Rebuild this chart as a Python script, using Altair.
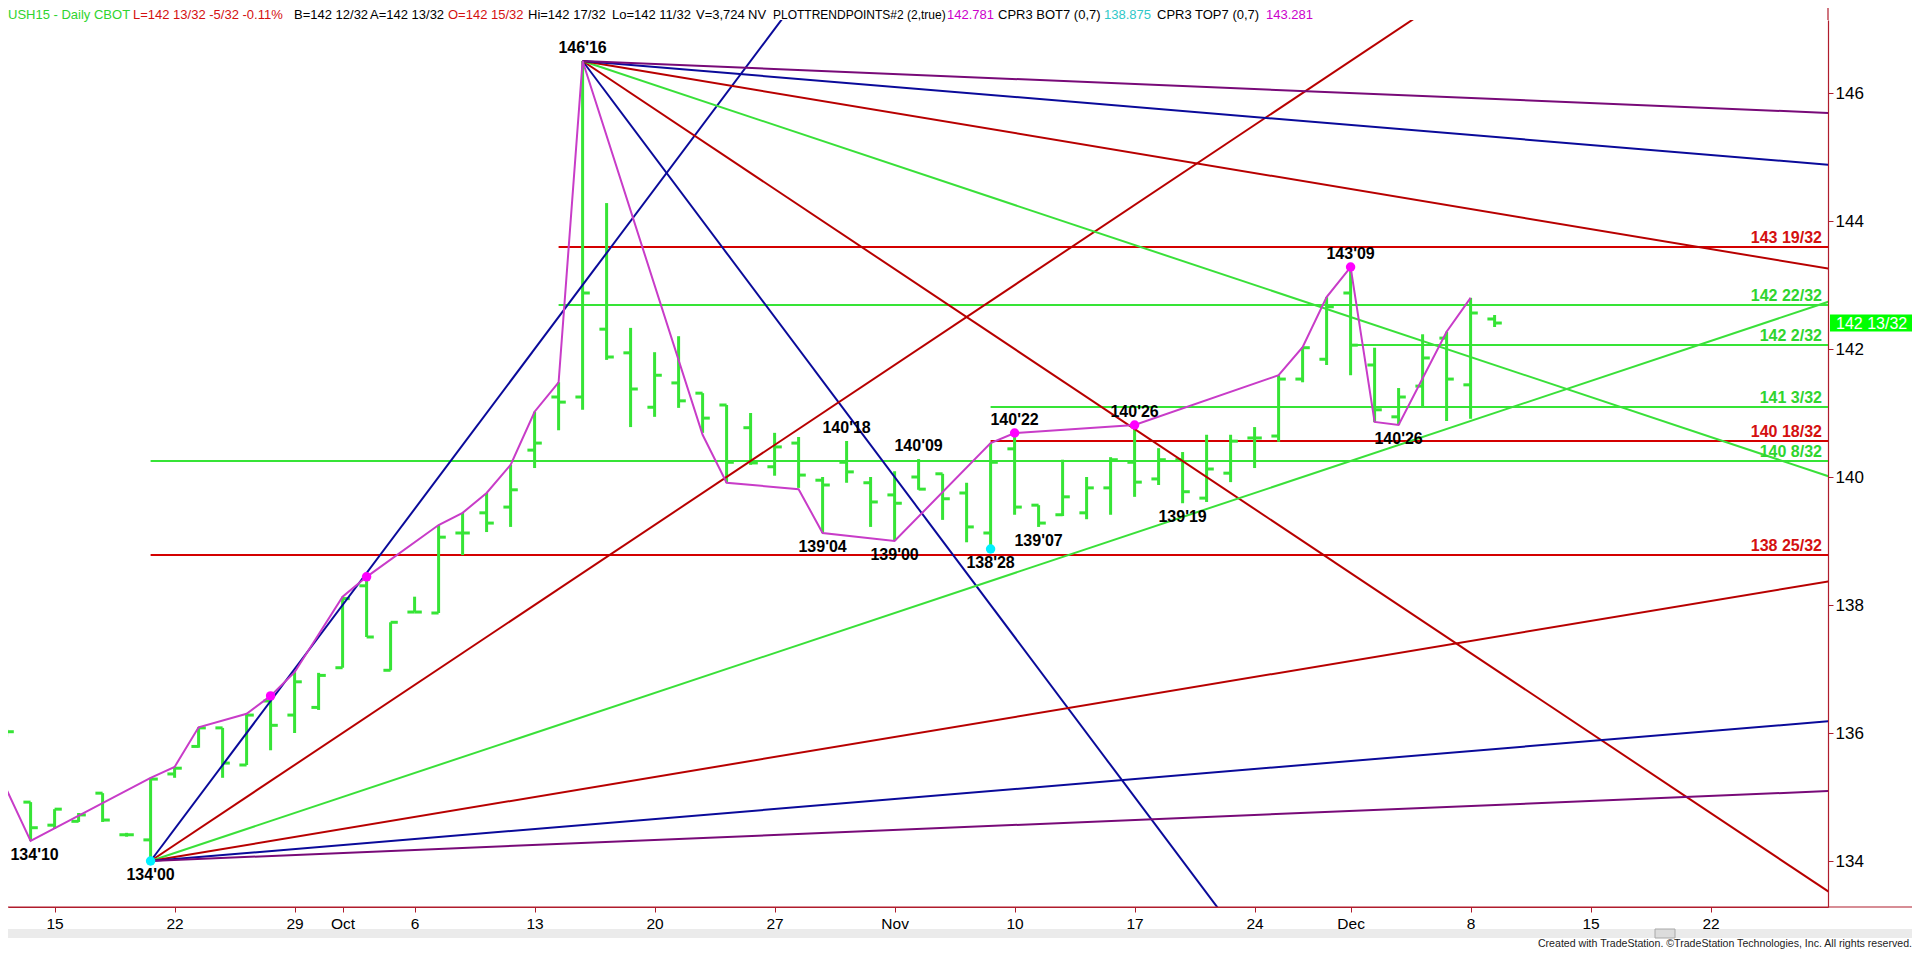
import altair as alt
import pandas as pd

# ---------------- data (trading-day index: 0 = Mon 15 Sep 2014) ----------------
bar_day = list(range(-2, 61))
bar_open = [136.00, 134.92, 134.56, 134.62, 135.06, 134.41, 134.33, 135.36, 135.79, 136.08,
            135.50, 136.50, 136.28, 136.40, 137.02, 138.30, 136.98, 137.89, 137.875, 139.125,
            139.44, 139.53, 140.42, 141.25, 141.25, 142.31, 141.94, 141.09, 141.47, 141.31,
            141.125, 140.77, 140.16, 140.53, 139.95, 140.23, 139.91, 139.72, 140.00, 140.05,
            139.75, 139.125, 140.44, 139.56, 139.41, 139.44, 139.83, 140.23, 139.97, 140.27,
            139.67, 140.06, 140.61, 140.64, 141.53, 141.84, 142.875, 141.75, 140.94, 141.42,
            142.17, 141.44, 142.469]
bar_high = [136.06, 134.92, 134.81, 134.75, 135.06, 134.44, 135.30, 135.47, 136.09, 136.08,
            136.30, 136.58, 136.95, 136.94, 138.13, 138.44, 137.73, 138.13, 139.25, 139.44,
            139.75, 140.19, 141.02, 141.48, 146.50, 144.28, 142.33, 141.95, 142.20, 141.31,
            141.125, 141.00, 140.69, 140.625, 140.00, 140.5625, 140.00, 140.09, 140.28, 140.05,
            139.91, 140.53, 140.6875, 139.56, 140.27, 140.00, 140.31, 140.8125, 140.45, 140.39,
            140.66, 140.66, 140.78, 141.59, 142.03, 142.81, 143.28, 142.02, 141.39, 142.23,
            142.27, 142.80, 142.531]
bar_low = [135.94, 134.3125, 134.50, 134.61, 134.61, 134.38, 134.00, 135.30, 135.77, 135.30,
           135.50, 135.73, 136.00, 136.36, 137.02, 137.50, 136.98, 137.89, 137.875, 138.78,
           139.14, 139.22, 140.14, 140.73, 141.05, 141.83, 140.78, 140.94, 141.08, 140.69,
           139.91, 140.19, 140.02, 139.83, 139.125, 139.91, 139.22, 139.00, 139.80, 139.33,
           138.98, 138.875, 139.41, 139.22, 139.39, 139.34, 139.41, 139.69, 139.875, 139.59,
           139.61, 139.92, 140.14, 140.55, 141.48, 141.75, 141.59, 140.86, 140.8125, 141.09,
           140.875, 140.91, 142.344]
bar_close = [136.02, 134.52, 134.81, 134.72, 134.64, 134.41, 135.28, 135.45, 136.08, 135.53,
             136.28, 136.12, 136.80, 136.90, 138.10, 137.50, 137.73, 137.89, 139.06, 139.125,
             139.28, 139.80, 140.53, 141.17, 142.875, 141.875, 141.375, 141.59, 141.19, 140.92,
             140.23, 140.22, 140.47, 140.03, 139.875, 140.08, 139.61, 139.59, 139.81, 139.66,
             139.22, 140.23, 139.53, 139.28, 139.69, 139.83, 140.27, 139.92, 140.27, 139.77,
             140.125, 140.56, 140.61, 141.53, 142.02, 142.66, 142.06, 141.05, 141.25, 141.86,
             141.53, 142.5625, 142.406]

# trend (swing) line vertices
swing_day = [-3, -1, 4, 5, 6, 8, 9, 10, 12, 13, 16, 17, 18, 19, 20, 21, 22, 27, 28, 31,
             32, 35, 39, 40, 45, 51, 52, 53, 54, 55, 56, 58, 59]
swing_price = [135.92, 134.3125, 135.30, 135.47, 136.09, 136.30, 136.58, 136.95, 138.13, 138.44,
               139.25, 139.44, 139.75, 140.19, 141.02, 141.48, 146.50, 140.66, 139.91, 139.81,
               139.125, 139.00, 140.53, 140.6875, 140.8125, 141.59, 142.03, 142.81, 143.28, 140.86,
               140.8125, 142.27, 142.80]

# marked points
pink_day = [9, 13, 40, 45, 54]
pink_price = [136.58, 138.44, 140.6875, 140.8125, 143.28125]
cyan_day = [4, 39]
cyan_price = [134.0, 138.875]

# pivot labels
piv_text = ["146'16", "134'10", "134'00", "140'18", "139'04", "139'00", "140'09", "138'28",
            "140'22", "139'07", "140'26", "139'19", "143'09", "140'26"]
piv_day = [22, -1, 4, 33, 32, 35, 36, 39, 40, 41, 45, 47, 54, 56]
piv_price = [146.5, 134.3125, 134.0, 140.5625, 139.125, 139.0, 140.28125, 138.875,
             140.6875, 139.21875, 140.8125, 139.59375, 143.28125, 140.8125]
piv_kind = ["high", "low", "low", "high", "low", "low", "high", "low",
            "high", "low", "high", "low", "high", "low"]

# horizontal price levels
lvl_start = [21, 21, 54, 39, 39, 4, 4]
lvl_price = [143.59375, 142.6875, 142.0625, 141.09375, 140.5625, 140.25, 138.78125]
lvl_text = ["143 19/32", "142 22/32", "142 2/32", "141 3/32", "140 18/32", "140 8/32", "138 25/32"]
lvl_kind = ["red", "green", "green", "green", "red", "green", "red"]

# fan lines (anchor + rate in points per bar)
fan_rates = [0.5, 0.25, 0.125, 0.0625, 0.03125, 0.015625]
fan_kind = ["blue", "red", "green", "red", "blue", "purple"]
low_anchor = (4, 134.0)
high_anchor = (22, 146.5)

# axis ticks
tick_days = [0, 5, 10, 12, 15, 20, 25, 30, 35, 40, 45, 50, 54, 59, 64, 69]
tick_text = ["15", "22", "29", "Oct", "6", "13", "20", "27", "Nov", "10", "17", "24", "Dec", "8", "15", "22"]
price_ticks = [134, 136, 138, 140, 142, 144, 146]

last_price = 142.40625
last_text = "142 13/32"

header_text = ["USH15 - Daily CBOT", "L=142 13/32 -5/32 -0.11%", "B=142 12/32", "A=142 13/32",
               "O=142 15/32", "Hi=142 17/32", "Lo=142 11/32", "V=3,724", "NV",
               "PLOTTRENDPOINTS#2 (2,true)", "142.781", "CPR3 BOT7 (0,7)", "138.875",
               "CPR3 TOP7 (0,7)", "143.281"]
header_kind = ["green", "red", "black", "black", "red", "black", "black", "black", "black",
               "black", "magenta", "black", "cyan", "black", "magenta"]

# ---------------- styling / layout ----------------
COL = {"green": "#36e436", "red": "#d40000", "blue": "#0000a8", "purple": "#7a0a7a",
       "black": "#000000", "magenta": "#cc00cc", "cyan": "#33cccc"}
TXT_COL = {"green": "#2fd42f", "red": "#d41010", "black": "#000000",
           "magenta": "#cc00cc", "cyan": "#2ec8c8"}
FAN_COL = {"blue": "#0a0a9a", "red": "#b80000", "green": "#3ae03a", "purple": "#780a78"}
AXIS_COL = "#b01c2c"
FONT = "Liberation Sans, Arial, sans-serif"

W, H = 1820, 887
X_DOMAIN = [-1.9417, 73.8917]
Y_DOMAIN = [133.28125, 147.140625]
header_x = [0, 125, 286, 362, 440, 520, 604, 688, 740, 765, 939, 990, 1096, 1149, 1258]
header_size = [13, 13, 13, 13, 13, 13, 13, 13, 13, 12, 13, 13, 13, 13, 13]

label_expr = ("[" + ",".join("'%s'" % t for t in tick_text) + "][indexof(["
              + ",".join(str(t) for t in tick_days) + "], datum.value)]")

xscale = alt.Scale(domain=X_DOMAIN, nice=False, zero=False)
yscale = alt.Scale(domain=Y_DOMAIN, nice=False, zero=False)
xaxis = alt.Axis(values=tick_days, labelExpr=label_expr, grid=False, tickSize=5,
                 tickColor=AXIS_COL, domainColor=AXIS_COL, domainWidth=1.2, labelColor="black",
                 labelFont=FONT, labelFontSize=15.5, labelPadding=4, labelOverlap=False,
                 labelFlush=False, title=None)
yaxis = alt.Axis(orient="right", values=price_ticks, grid=False, tickSize=5,
                 tickColor=AXIS_COL, domainColor=AXIS_COL, domainWidth=1.2, labelColor="black",
                 labelFont=FONT, labelFontSize=17, labelPadding=2, title=None)


def X(f):
    return alt.X(f, type="quantitative", scale=xscale, axis=xaxis)


def Y(f):
    return alt.Y(f, type="quantitative", scale=yscale, axis=yaxis)


bars = pd.DataFrame({"d": bar_day, "o": bar_open, "h": bar_high, "l": bar_low, "c": bar_close})
swing = pd.DataFrame({"d": swing_day, "p": swing_price})
pink = pd.DataFrame({"d": pink_day, "p": pink_price})
cyan = pd.DataFrame({"d": cyan_day, "p": cyan_price})
piv = pd.DataFrame({"t": piv_text, "d": piv_day, "p": piv_price, "k": piv_kind})
lvl = pd.DataFrame({"d": lvl_start, "p": lvl_price, "t": lvl_text,
                    "col": [COL[k] for k in lvl_kind], "tcol": [TXT_COL[k] for k in lvl_kind]})

fan_rows = []
END_DAY = 80
for n, (r, k) in enumerate(zip(fan_rates, fan_kind)):
    for sign, (a_d, a_p), tag in [(1, low_anchor, "L"), (-1, high_anchor, "H")]:
        lid = "%s%d" % (tag, n)
        fan_rows.append({"id": lid, "d": a_d, "p": a_p, "col": FAN_COL[k]})
        fan_rows.append({"id": lid, "d": END_DAY, "p": a_p + sign * r * (END_DAY - a_d), "col": FAN_COL[k]})
fans = pd.DataFrame(fan_rows)

head = pd.DataFrame({"t": header_text, "x": header_x, "s": header_size,
                     "col": [TXT_COL[k] for k in header_kind]})
one = pd.DataFrame({"a": [0]})
lastdf = pd.DataFrame({"d": [60], "p": [last_price], "t": [last_text]})

layers = []

# price levels
layers.append(alt.Chart(lvl).mark_rule(strokeWidth=2, clip=True).encode(
    x=X("d"), x2=alt.value(W), y=Y("p"), color=alt.Color("col:N", scale=None)))

# OHLC bars
layers.append(alt.Chart(bars).mark_rule(strokeWidth=3, color=COL["green"], clip=True).encode(
    x=X("d"), y=Y("l"), y2="h"))
layers.append(alt.Chart(bars).transform_calculate(d0="datum.d - 0.3").mark_rule(
    strokeWidth=3, color=COL["green"], clip=True).encode(x=X("d0"), x2="d", y=Y("o")))
layers.append(alt.Chart(bars).transform_calculate(d1="datum.d + 0.3").mark_rule(
    strokeWidth=3, color=COL["green"], clip=True).encode(x=X("d"), x2="d1", y=Y("c")))

# fans
layers.append(alt.Chart(fans).mark_line(strokeWidth=2, clip=True).encode(
    x=X("d"), y=Y("p"), detail="id:N", color=alt.Color("col:N", scale=None)))

# swing line
layers.append(alt.Chart(swing).mark_line(strokeWidth=2, color="#c83cc8", clip=True).encode(
    x=X("d"), y=Y("p")))

# points
layers.append(alt.Chart(pink).mark_circle(size=90, opacity=1, color="#ff00ff", clip=True).encode(
    x=X("d"), y=Y("p")))
layers.append(alt.Chart(cyan).mark_circle(size=90, opacity=1, color="#00f0ff", clip=True).encode(
    x=X("d"), y=Y("p")))

# pivot labels
layers.append(alt.Chart(piv).transform_filter("datum.k == 'high'").mark_text(
    font=FONT, fontWeight="bold", fontSize=16, color="black", dy=-13, baseline="middle").encode(
    x=X("d"), y=Y("p"), text="t:N"))
layers.append(alt.Chart(piv).transform_filter("datum.k == 'low' && datum.d >= 0").mark_text(
    font=FONT, fontWeight="bold", fontSize=16, color="black", dy=14, baseline="middle").encode(
    x=X("d"), y=Y("p"), text="t:N"))
layers.append(alt.Chart(piv).transform_filter("datum.k == 'low' && datum.d < 0").mark_text(
    font=FONT, fontWeight="bold", fontSize=16, color="black", dy=14, dx=4, baseline="middle").encode(
    x=X("d"), y=Y("p"), text="t:N"))

# level labels
layers.append(alt.Chart(lvl).mark_text(font=FONT, fontWeight="bold", fontSize=16, align="right",
                                       baseline="bottom", dy=-1).encode(
    x=alt.value(W - 6), y=Y("p"), text="t:N", color=alt.Color("tcol:N", scale=None)))

# last price box on the axis
layers.append(alt.Chart(lastdf).mark_rect(color="#00ff00", yOffset=-8.5, y2Offset=8.5).encode(
    x=alt.value(W + 2), x2=alt.value(W + 90), y=Y("p"), y2="p"))
layers.append(alt.Chart(lastdf).mark_text(font=FONT, fontSize=16, color="white", align="left",
                                          baseline="middle", dy=1).encode(
    x=alt.value(W + 8), y=Y("p"), text="t:N"))

# frame extensions
layers.append(alt.Chart(one).mark_rule(color=AXIS_COL, strokeWidth=1.2).encode(
    x=alt.value(W), y=alt.value(-20), y2=alt.value(0)))
layers.append(alt.Chart(one).mark_rule(color=AXIS_COL, strokeWidth=1.2).encode(
    x=alt.value(-8), x2=alt.value(W + 100), y=alt.value(H)))

# scrollbar
layers.append(alt.Chart(one).mark_rect(color="#ebebeb").encode(
    x=alt.value(-8), x2=alt.value(W + 100), y=alt.value(H + 22), y2=alt.value(H + 31)))
layers.append(alt.Chart(one).mark_rect(color="#dcdcdc", stroke="#a8a8a8", strokeWidth=1).encode(
    x=alt.value(1647), x2=alt.value(1667), y=alt.value(H + 22), y2=alt.value(H + 31)))

# header
layers.append(alt.Chart(head).mark_text(font=FONT, align="left", baseline="alphabetic").encode(
    x=alt.X("x:Q", scale=None), y=alt.value(-1), text="t:N",
    size=alt.Size("s:Q", scale=None), color=alt.Color("col:N", scale=None)))

# credits
layers.append(alt.Chart(one).mark_text(
    font=FONT, fontSize=10.6, align="right", baseline="alphabetic", color="#222222",
    text="Created with TradeStation. \u00a9TradeStation Technologies, Inc. All rights reserved.").encode(
    x=alt.value(W + 84), y=alt.value(H + 40)))

chart = alt.layer(*layers).properties(
    width=W, height=H,
    padding={"left": 0, "top": 12, "right": 84, "bottom": 42},
    autosize=alt.AutoSizeParams(type="none"),
    background="white",
).configure_view(strokeWidth=0)

chart.save("out.html", embed_options={"renderer": "svg", "actions": False})
